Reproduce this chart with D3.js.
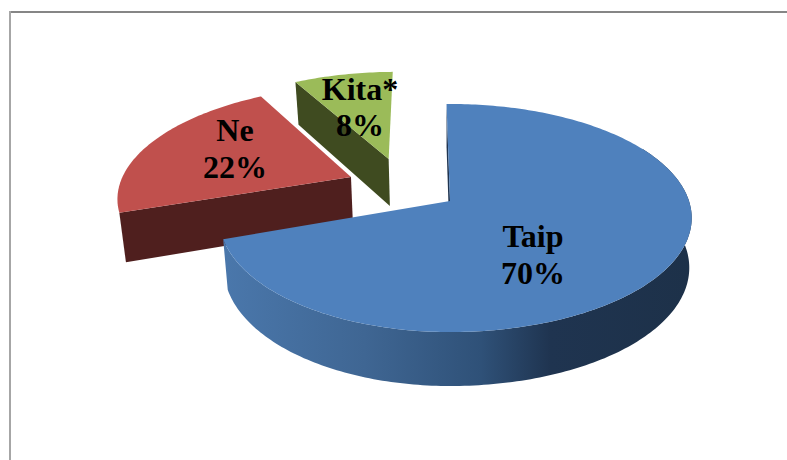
<!DOCTYPE html>
<html>
<head>
<meta charset="utf-8">
<style>
  html, body { margin: 0; padding: 0; background: #fff; overflow: hidden; }
  svg { display: block; }
  .pie-label { font-family: "Liberation Serif", serif; font-weight: bold; font-size: 32px; fill: #000; text-anchor: middle; }
</style>
</head>
<body>
<svg id="d3-pie" width="787" height="460"></svg>
<script src="https://cdn.jsdelivr.net/npm/d3@7"></script>
<script>
"use strict";

// Data
const CATEGORIES = ["Taip", "Ne", "Kita*"];
const PERCENTS = [70, 22, 8];

// Styles, one entry per category
const TOP_COLORS = ["#4f81bd", "#c0504d", "#9bbb59"];
const WALL_COLORS = ["#1f3450", "#4f1f1e", "#3f4b20"];
const EXPLODE_X = [0, -0.428, -0.272]; // Slice offset on the pie plane, in radii
const EXPLODE_Z = [0, -0.222, -0.40];
const LEFT_SQUEEZE = [0.955, 0.988, 1]; // Left half of a slice sits closer to its apex
const LABEL_X = [533, 235, 360];
const LABEL_Y = [247, 141, 100]; // Baseline of first line
const LABEL_GAP = [37, 37, 36]; // Baseline of second line, below the first

// Static dimensions
const SVG_WIDTH = 787;
const SVG_HEIGHT = 460;
const CENTER_X = 450; // Where the pie apex lands
const CENTER_Y = 201;
const RADIUS_X = 239;
const TILT = 111.5; // Screen height of one radius at the apex
const PERSPECTIVE = 0.149;
const DEPTH = 49; // Pie thickness
const DEPTH_Z = 5; // Extra thickness per radius toward viewer
const SHRINK_LEFT = 0.98; // Bottom rim narrows a little
const SHRINK_RIGHT = 0.99;
const START_ANGLE = -1 * Math.PI / 180;
const WALL_START = 60 * Math.PI / 180; // First angle where blue rim wall can show
const ARC_STEP = Math.PI / 180;

// Scales from the pie plane to pixels, before the perspective divide
const X_SCALE = d3.scaleLinear().domain([-1, 1]).range([-RADIUS_X, RADIUS_X]);
const Z_SCALE = d3.scaleLinear().domain([-1, 1]).range([-TILT, TILT]);

const SVG = d3.select("#d3-pie");
const LINE = d3.line().x(function(d) { return d[0]; }).y(function(d) { return d[1]; });

// Project a plane point, optionally on the bottom rim
function project(x, z, bottom) {
  const w = 1 - PERSPECTIVE * z;
  const sx = X_SCALE(x) / w;
  const sy = Z_SCALE(z) / w;
  if (!bottom) return [CENTER_X + sx, CENTER_Y + sy];
  const shrink = sx < 0 ? SHRINK_LEFT : SHRINK_RIGHT;
  return [CENTER_X + sx * shrink, CENTER_Y + sy + DEPTH + DEPTH_Z * z];
}

// Point on a slice rim. Angle is clockwise from top, like d3.pie
function rimPoint(i, angle, bottom) {
  const sin = Math.sin(angle);
  const x = sin < 0 ? sin * LEFT_SQUEEZE[i] : sin;
  return project(EXPLODE_X[i] + x, EXPLODE_Z[i] - Math.cos(angle), bottom);
}

function apexPoint(i, bottom) {
  return project(EXPLODE_X[i], EXPLODE_Z[i], bottom);
}

function arcPoints(i, from, to, bottom) {
  const points = d3.range(from, to, ARC_STEP).map(function(a) { return rimPoint(i, a, bottom); });
  points.push(rimPoint(i, to, bottom));
  return points;
}

const PIE = d3.pie().sort(null).startAngle(START_ANGLE).endAngle(START_ANGLE + 2 * Math.PI);
const SLICES = PIE(PERCENTS);

// Gradient for blue rim wall
const GRADIENT = SVG.append("defs").append("linearGradient")
  .attr("id", "blue-wall")
  .attr("gradientUnits", "userSpaceOnUse")
  .attr("x1", 225).attr("y1", 0).attr("x2", 690).attr("y2", 0);
GRADIENT.append("stop").attr("offset", "0").attr("stop-color", "#4a77ab");
GRADIENT.append("stop").attr("offset", "0.3").attr("stop-color", "#3f6693");
GRADIENT.append("stop").attr("offset", "0.55").attr("stop-color", "#2f5178");
GRADIENT.append("stop").attr("offset", "0.7").attr("stop-color", "#1f3450");
GRADIENT.append("stop").attr("offset", "1").attr("stop-color", "#1d3149");

// Chart frame
SVG.append("line").attr("x1", 10).attr("y1", 12).attr("x2", SVG_WIDTH).attr("y2", 12)
  .attr("stroke", "#868686").attr("stroke-width", 2);
SVG.append("line").attr("x1", 10).attr("y1", 11).attr("x2", 10).attr("y2", SVG_HEIGHT)
  .attr("stroke", "#a6a6a6").attr("stroke-width", 2);

// Draw back to front: green, red, blue
[2, 1, 0].forEach(function(i) {
  const slice = SLICES[i];
  const g = SVG.append("g").classed("slice", true);

  // Radial wall along the start edge of the slice
  g.append("path")
    .attr("fill", WALL_COLORS[i])
    .attr("d", LINE([
      apexPoint(i, false),
      rimPoint(i, slice.startAngle, false),
      rimPoint(i, slice.startAngle, true),
      apexPoint(i, true)
    ]) + "Z");

  // Outer rim wall, only the blue slice shows one
  if (i === 0) {
    const top = arcPoints(i, WALL_START, slice.endAngle, false);
    const bottom = arcPoints(i, WALL_START, slice.endAngle, true).reverse();
    g.append("path")
      .attr("fill", "url(#blue-wall)")
      .attr("d", LINE(top.concat(bottom)) + "Z");
  }

  // Top face
  g.append("path")
    .attr("fill", TOP_COLORS[i])
    .attr("d", LINE([apexPoint(i, false)].concat(arcPoints(i, slice.startAngle, slice.endAngle, false))) + "Z");
});

// Labels
CATEGORIES.forEach(function(name, i) {
  SVG.append("text").classed("pie-label", true)
    .attr("x", LABEL_X[i]).attr("y", LABEL_Y[i]).text(name);
  SVG.append("text").classed("pie-label", true)
    .attr("x", LABEL_X[i]).attr("y", LABEL_Y[i] + LABEL_GAP[i]).text(PERCENTS[i] + "%");
});
</script>
</body>
</html>
